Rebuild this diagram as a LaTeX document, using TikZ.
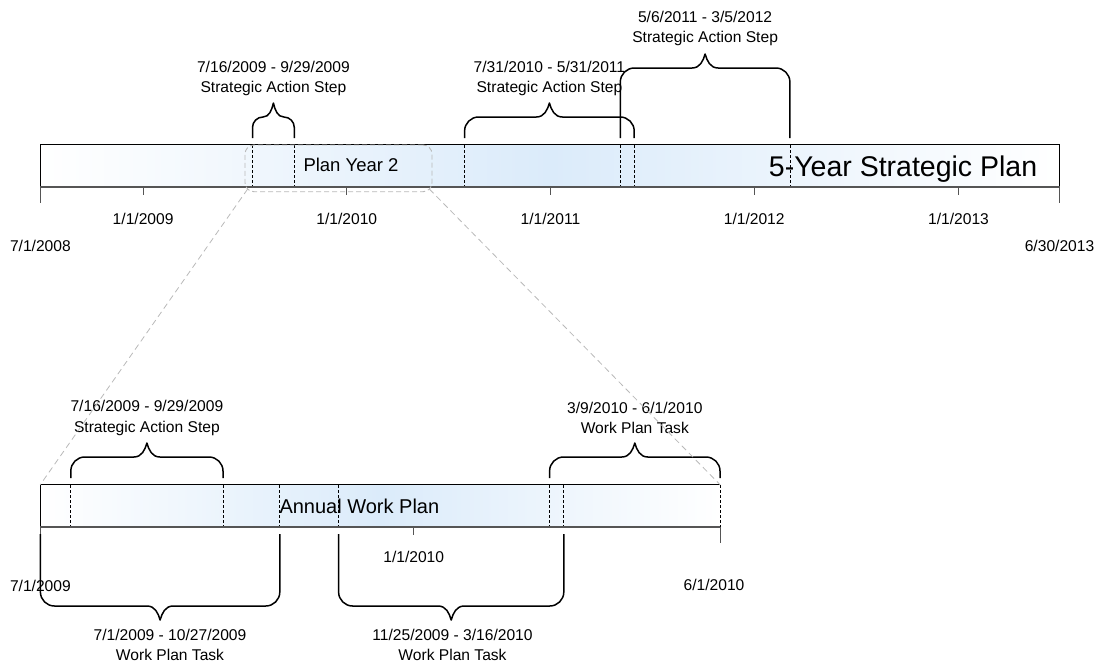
\documentclass[tikz,border=0pt]{standalone}
\usepackage{fontspec}
\setmainfont{Liberation Sans}
\definecolor{barblue}{RGB}{219,235,250}
\definecolor{axisgray}{RGB}{85,85,85}
\definecolor{zoomgray}{RGB}{185,185,185}

% curly brace: #1 x-start, #2 x-end, #3 y where the legs end,
% #4 y of the long stroke, #5 = -1 tip points up, +1 tip points down
\newcommand{\curlybrace}[5]{%
  \pgfmathsetmacro{\bxc}{(#1+#2)/2}%
  \pgfmathsetmacro{\bhw}{(#2-#1)/2}%
  \pgfmathsetmacro{\br}{min(14,\bhw/2)}%
  \pgfmathsetmacro{\bc}{min(13,\bhw/2)}%
  \pgfmathsetmacro{\ys}{#4-(#5)*\br}%
  \pgfmathsetmacro{\yk}{#4-(#5)*0.45*\br}%
  \pgfmathsetmacro{\yt}{#4+(#5)*14}%
  \pgfmathsetmacro{\ytm}{#4+(#5)*7}%
  \draw[bracket] (#1,#3) -- (#1,\ys)
     .. controls (#1,\yk) and (#1+0.45*\br,#4) .. (#1+\br,#4)
     -- (\bxc-\bc,#4)
     .. controls (\bxc-0.4*\bc,#4) and (\bxc-0.15*\bc,\ytm) .. (\bxc,\yt)
     .. controls (\bxc+0.15*\bc,\ytm) and (\bxc+0.4*\bc,#4) .. (\bxc+\bc,#4)
     -- (#2-\br,#4)
     .. controls (#2-0.45*\br,#4) and (#2,\yk) .. (#2,\ys) -- (#2,#3);%
}

\begin{document}
\begin{tikzpicture}[x=1pt,y=-1pt,
  lbl/.style={font=\fontsize{15.6}{20.7}\selectfont, inner sep=0pt, align=center},
  tl/.style={font=\fontsize{15.6}{20.7}\selectfont, inner sep=0pt, anchor=base},
  barfill/.style={draw=none, rectangle, inner sep=0pt, left color=white, right color=white, middle color=barblue},
  barline/.style={black, line width=0.9pt},
  axisline/.style={draw=axisgray, line width=1.6pt},
  tickmark/.style={draw=axisgray, line width=1pt},
  marker/.style={black, line width=0.8pt, dash pattern=on 3pt off 2pt},
  bracket/.style={black, line width=1.5pt, line join=round},
  zoomline/.style={draw=zoomgray, line width=0.8pt, dash pattern=on 6pt off 4pt},
  zoombox/.style={draw=zoomgray, line width=0.9pt, dash pattern=on 5pt off 3pt, rounded corners=9pt, inner sep=0pt, rectangle},
]
\useasboundingbox (0,0) rectangle (1099,664);

% ---------- five-year bar ----------
\node[barfill, minimum width=1019.1pt, minimum height=42pt] (topbar) at (549.95,166) {};
\foreach \x in {252.5,294.3,464.6,620.3,634.2,789.9}
  \draw[marker] (\x,145) -- (\x,187);
\draw[barline] (topbar.south west) -- (topbar.north west) -- (topbar.north east) -- (topbar.south east);
\draw[axisline] (topbar.south west) -- (topbar.south east);
\draw[tickmark] (40.4,187) -- (40.4,203);
\draw[tickmark] (1059.5,187) -- (1059.5,203);
\foreach \x in {143.1,346.8,550.5,754.2,958.5}
  \draw[tickmark] (\x,187) -- (\x,195);

\node[tl] (y09) at (143.1,224.1) {1/1/2009};
\node[tl] (y10) at (346.8,224.1) {1/1/2010};
\node[tl] (y11) at (550.5,224.1) {1/1/2011};
\node[tl] (y12) at (754.2,224.1) {1/1/2012};
\node[tl] (y13) at (958.5,224.1) {1/1/2013};
\node[tl] (tstart) at (40.4,251.6) {7/1/2008};
\node[tl] (tend) at (1059.5,251.6) {6/30/2013};

\curlybrace{252.5}{294.3}{138}{117}{-1}
\curlybrace{464.6}{634.2}{138}{117}{-1}
\curlybrace{620.3}{789.9}{138}{68}{-1}

\node[lbl] (sa1) at (273.4,78.5) {7/16/2009 - 9/29/2009\\Strategic Action Step};
\node[lbl] (sa2) at (549.4,78.5) {7/31/2010 - 5/31/2011\\Strategic Action Step};
\node[lbl] (sa3) at (705.1,28.5) {5/6/2011 - 3/5/2012\\Strategic Action Step};

\node[font=\fontsize{28.5}{34}\selectfont, inner sep=0pt, anchor=base east] (planname) at (1037.4,176.2) {5-Year Strategic Plan};
\node[font=\fontsize{18.5}{22}\selectfont, inner sep=0pt, anchor=base west] (yearname) at (303.3,171.6) {Plan Year 2};

% ---------- annual bar ----------
\node[barfill, minimum width=679.6pt, minimum height=42pt] (botbar) at (380.2,506) {};
\foreach \x in {70.8,223.0,279.8,338.6,549.6,563.8}
  \draw[marker] (\x,485) -- (\x,527);
\draw[barline] (botbar.south west) -- (botbar.north west) -- (botbar.north east);
\draw[marker] (botbar.north east) -- (botbar.south east);
\draw[axisline] (botbar.south west) -- (botbar.south east);
\draw[tickmark] (40.4,527) -- (40.4,543);
\draw[tickmark] (720,527) -- (720,543);
\draw[tickmark] (413.7,527) -- (413.7,535);

\node[tl] (b10) at (413.7,562.6) {1/1/2010};
\node[tl] (bstart) at (40.4,591.6) {7/1/2009};
\node[tl] (bend) at (714,590.6) {6/1/2010};

\curlybrace{70.8}{223.0}{478}{457}{-1}
\curlybrace{549.6}{720}{478}{457}{-1}
\curlybrace{40.4}{279.8}{534}{606}{1}
\curlybrace{338.6}{563.8}{534}{606}{1}

\node[lbl] (ba1) at (146.9,418) {7/16/2009 - 9/29/2009\\Strategic Action Step};
\node[lbl] (ba2) at (634.8,418) {3/9/2010 - 6/1/2010\\Work Plan Task};
\node[lbl] (bb1) at (170,645) {7/1/2009 - 10/27/2009\\Work Plan Task};
\node[lbl] (bb2) at (452.5,645) {11/25/2009 - 3/16/2010\\Work Plan Task};

\node[font=\fontsize{20}{24}\selectfont, inner sep=0pt, anchor=base west] (annualname) at (279.3,513.2) {Annual Work Plan};

% ---------- zoom from plan year 2 to the annual plan ----------
\node[zoombox, minimum width=187pt, minimum height=46.7pt] (planbox) at (338.5,168.35) {};
\coordinate (zl) at (247.6,189.1);
\coordinate (zr) at (429.4,189.1);
\draw[zoomline] (zl) -- (botbar.north west);
\draw[zoomline] (zr) -- (botbar.north east);
\end{tikzpicture}
\end{document}
